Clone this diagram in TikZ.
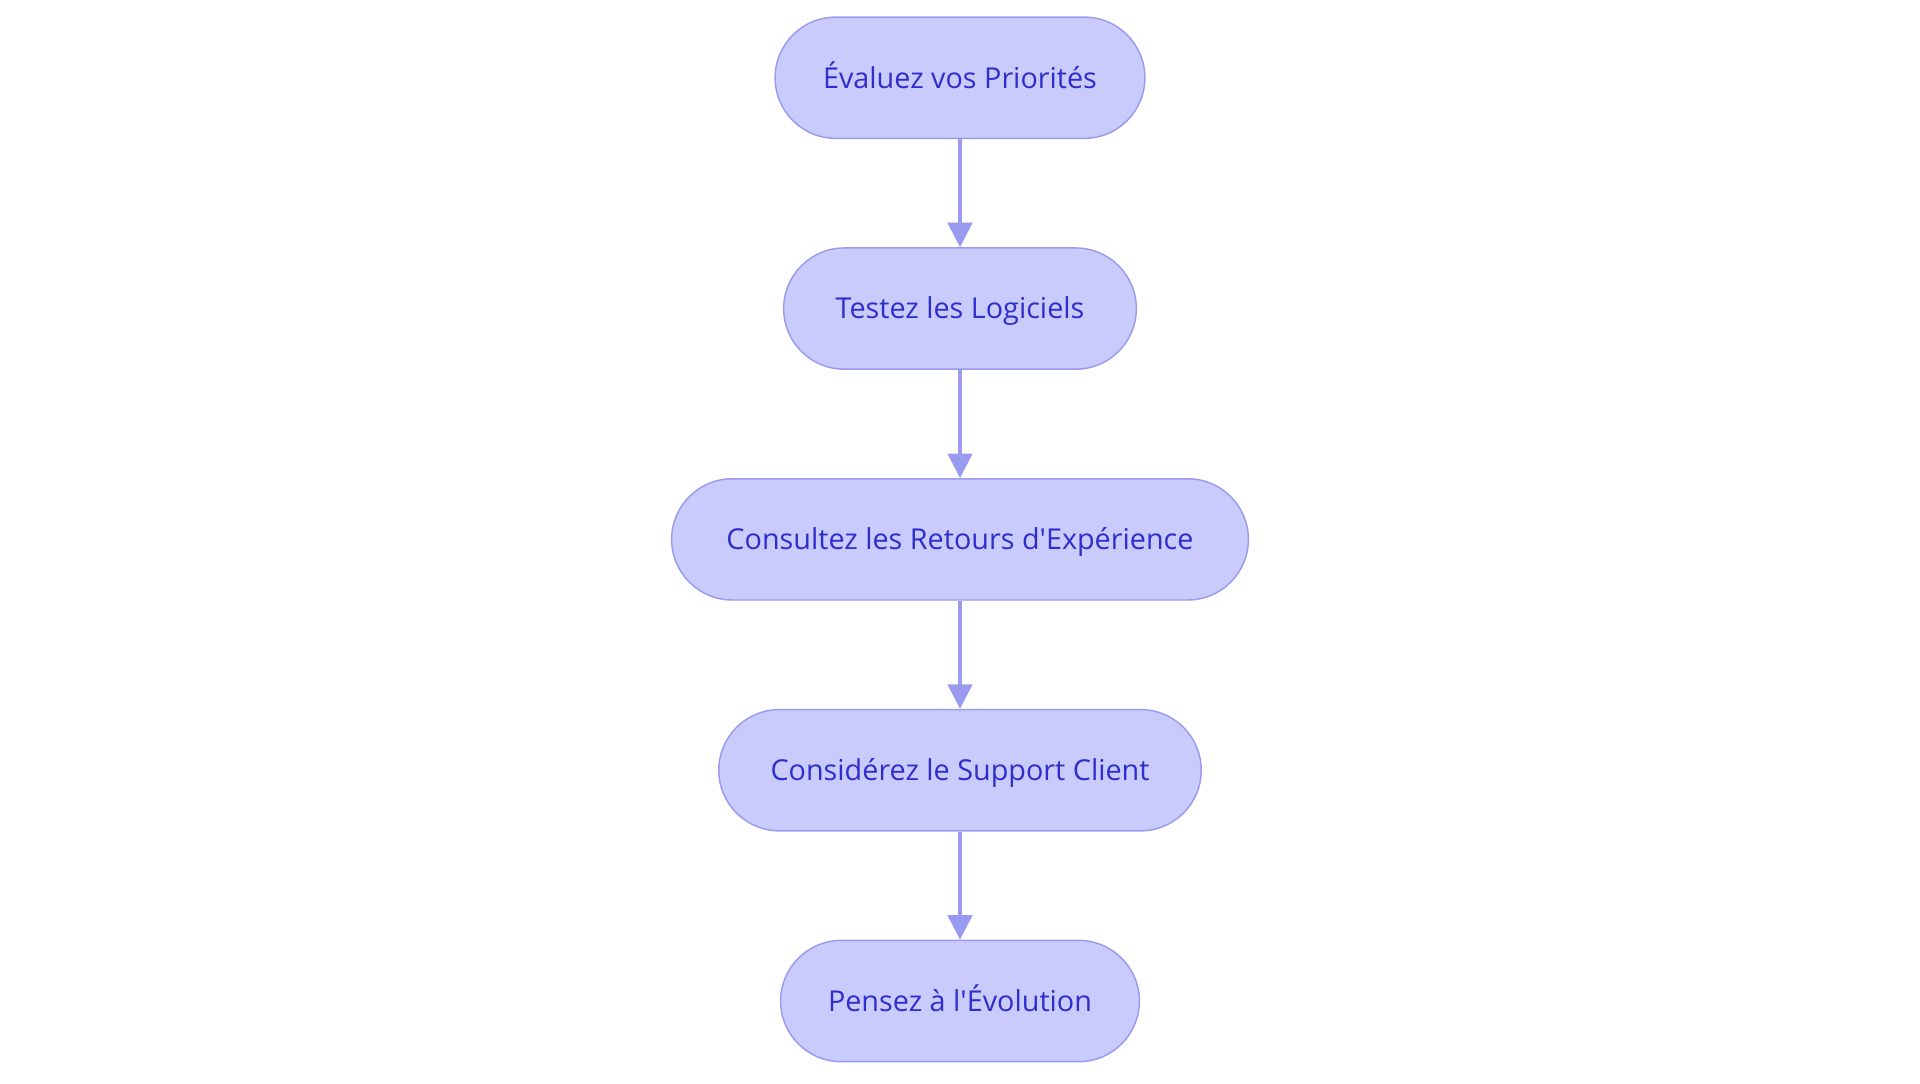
\documentclass[tikz,border=0pt]{standalone}
\usepackage{fontspec}
\setmainfont{Open Sans}
\usetikzlibrary{arrows.meta}
\definecolor{nfill}{HTML}{CACBFD}
\definecolor{nline}{HTML}{9A9BF0}
\definecolor{ntext}{HTML}{2E2ECC}
\begin{document}
\begin{tikzpicture}[x=1pt,y=-1pt,
  box/.style={draw=nline,line width=1.2pt,fill=nfill,rounded corners=49.5pt,minimum height=99pt,text=ntext,font=\fontsize{23.5}{26}\selectfont,inner sep=0pt,text height=17pt,text depth=0pt},
  arr/.style={draw=nline,line width=2.5pt,-{Triangle[length=20pt,width=20pt]}}]
\useasboundingbox (0,0) rectangle (1568,885);
\node[box,minimum width=302pt] (a) at (784,63.5) {Évaluez vos Priorités};
\node[box,minimum width=288pt] (b) at (784,252) {Testez les Logiciels};
\node[box,minimum width=471pt] (c) at (784,440.5) {Consultez les Retours d\textquotesingle Expérience};
\node[box,minimum width=394pt] (d) at (784,629) {Considérez le Support Client};
\node[box,minimum width=293pt] (e) at (784,817.5) {Pensez à l\textquotesingle Évolution};
\draw[arr] (a) -- (b);
\draw[arr] (b) -- (c);
\draw[arr] (c) -- (d);
\draw[arr] (d) -- (e);
\end{tikzpicture}
\end{document}
